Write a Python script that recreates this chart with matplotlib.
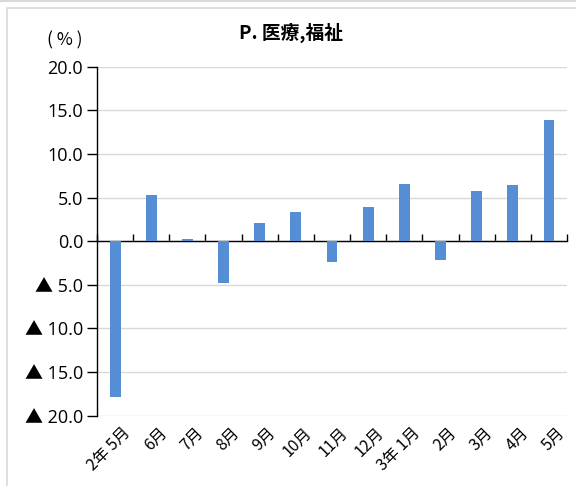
import matplotlib.pyplot as plt
from matplotlib.patches import Rectangle

plt.rcParams['font.family'] = ['Open Sans', 'Noto Sans CJK JP', 'DejaVu Sans']

months = ['2年 5月', '6月', '7月', '8月', '9月', '10月', '11月', '12月',
          '3年 1月', '2月', '3月', '4月', '5月']
values = [-17.8, 5.3, 0.3, -4.8, 2.1, 3.3, -2.4, 3.9, 6.6, -2.2, 5.8, 6.4, 13.9]
yticks = [20, 15, 10, 5, 0, -5, -10, -15, -20]
ytick_labels = ['20.0', '15.0', '10.0', '5.0', '0.0',
                '▲ 5.0', '▲ 10.0', '▲ 15.0', '▲ 20.0']

fig = plt.figure(figsize=(5.76, 4.86), dpi=100)
ax = fig.add_axes([97 / 576, 1 - 415.7 / 486, 470 / 576, (415.7 - 66.7) / 486])

# light frame around the chart
fig.patches.append(Rectangle((7 / 576, -0.1), 1.2, 1.1 - 8 / 486, transform=fig.transFigure,
                             fill=False, edgecolor='#d9d9d9', linewidth=1.2))
fig.add_artist(plt.Line2D([0, 1], [1 - 1.5 / 486] * 2, transform=fig.transFigure,
                          color='#d9d9d9', linewidth=1.5))

x = list(range(len(months)))
ax.bar(x, values, width=0.3, color='#558ed5', zorder=3)

ax.set_xlim(-0.5, len(months) - 0.5)
ax.set_ylim(-20, 20)
ax.set_yticks(yticks, ytick_labels, fontsize=13)
ax.tick_params(axis='y', length=7, width=1, pad=3, colors='black')
ax.yaxis.grid(True, color='#d9d9d9', linewidth=1, zorder=0)

for s in ['top', 'right']:
    ax.spines[s].set_visible(False)
ax.spines['left'].set_linewidth(1)
ax.spines['bottom'].set_position(('data', 0))
ax.spines['bottom'].set_linewidth(1)
ax.set_xticks([i - 0.5 for i in range(len(months) + 1)], [''] * (len(months) + 1))
ax.tick_params(axis='x', direction='in', length=5, width=1)

for xi, lab in zip(x, months):
    ax.text(xi + 0.2, -21.0, lab, transform=ax.transData, rotation=45,
            ha='right', va='top', rotation_mode='anchor', fontsize=11.5,
            family=['Noto Sans CJK JP', 'DejaVu Sans'])

fig.text(291 / 576, 1 - 33 / 486, 'P. 医療,福祉', ha='center', va='center',
         fontsize=13.5, fontweight='bold', family=['Noto Sans CJK JP', 'DejaVu Sans'])
fig.text(65 / 576, 1 - 40 / 486, '( % )', ha='center', va='center', fontsize=12.5,
         family=['Noto Sans CJK JP', 'DejaVu Sans'])

fig.savefig('out.png', dpi=100)
